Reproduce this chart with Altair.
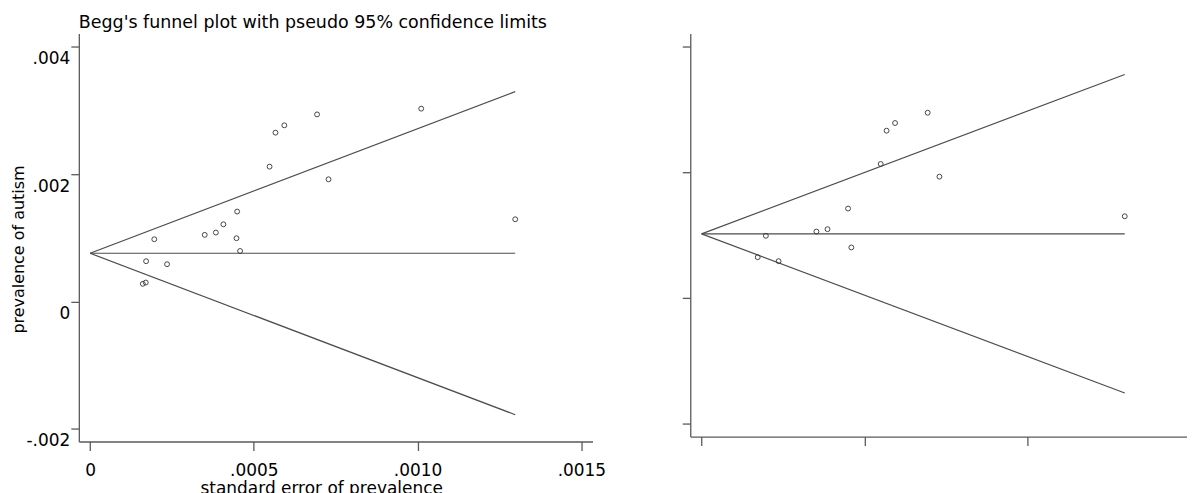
import altair as alt
import pandas as pd

# ---------------- data ----------------
# Left panel: all studies
left_se = [0.000693, 0.000593, 0.000566, 0.000548, 0.000728, 0.000449, 0.000407,
           0.000384, 0.000350, 0.000447, 0.000196, 0.000458, 0.000171, 0.000235,
           0.000170, 0.000161, 0.001011, 0.001298]
left_prev = [0.00294, 0.002768, 0.002653, 0.002119, 0.00192, 0.001413, 0.001213,
             0.001083, 0.001047, 0.000994, 0.000978, 0.000794, 0.000633, 0.000586,
             0.000298, 0.000278, 0.00303, 0.001292]

# Right panel: reduced set of studies
right_se = [0.000693, 0.000593, 0.000567, 0.000549, 0.000729, 0.000449, 0.000386,
            0.000352, 0.000197, 0.000459, 0.000172, 0.000236, 0.001297]
right_prev = [0.002946, 0.002782, 0.00266, 0.00213, 0.001928, 0.00142, 0.001091,
              0.001054, 0.000986, 0.0008, 0.000645, 0.000582, 0.001297]

# Funnel (pseudo 95% limits) end points
left_line_se = [0.0, 0.001298]
left_upper = [0.000758, 0.003297]
left_center = [0.000758, 0.000758]
left_lower = [0.000758, -0.001779]

right_line_se = [0.0, 0.001297]
right_upper = [0.001017, 0.003555]
right_center = [0.001017, 0.001017]
right_lower = [0.001017, -0.001517]

x_ticks = [0.0, 0.0005, 0.0010, 0.0015]
y_ticks = [-0.002, 0.0, 0.002, 0.004]

title_text = "Begg's funnel plot with pseudo 95% confidence limits"
x_title = "standard error of prevalence"
y_title = "prevalence of autism"

# ---------------- styling ----------------
FONT = "DejaVu Sans"
FS = 17
GRAY = "#5a5a5a"
LINE = "#4d4d4d"
PT = "#333333"


def funnel_df(se, up, mid, lo):
    rows = []
    for name, vals in (("upper", up), ("center", mid), ("lower", lo)):
        for s, v in zip(se, vals):
            rows.append({"se": s, "prev": v, "limit": name})
    return pd.DataFrame(rows)


def make_panel(se, prev, fse, fup, fmid, flo, xdom, ydom, w, h, labels):
    pts = pd.DataFrame({"se": se, "prev": prev})
    fdf = funnel_df(fse, fup, fmid, flo)

    xaxis_kw = dict(values=x_ticks, tickSize=9, tickColor=GRAY, tickWidth=1.3,
                    domainColor=GRAY, domainWidth=1.3, grid=False)
    yaxis_kw = dict(values=y_ticks, tickSize=8, tickColor=GRAY, tickWidth=1.3,
                    domainColor=GRAY, domainWidth=1.3, grid=False)
    if labels:
        xaxis_kw.update(
            labelExpr="datum.value == 0 ? '0' : replace(format(datum.value, '.4f'), '0.', '.')",
            labelFont=FONT, labelFontSize=FS, labelColor="black", labelPadding=12,
            labelFlush=False,
            titleFont=FONT, titleFontSize=FS, titleFontWeight="normal", titleColor="black",
            titleX=243, titleY=39, titleBaseline="top", titleAlign="center")
        yaxis_kw.update(
            labelExpr="datum.value == 0 ? '0' : replace(replace(format(datum.value, '.3f'), '0.', '.'), '\u2212', '-')",
            labelFont=FONT, labelFontSize=FS, labelColor="black", labelPadding=1,
            labelOffset=12, labelFlush=False,
            titleFont=FONT, titleFontSize=16, titleFontWeight="normal", titleColor="black",
            titleX=-52, titleY=216, titleBaseline="bottom", titleAlign="center")
        xt, yt = x_title, y_title
    else:
        xaxis_kw.update(labels=False)
        yaxis_kw.update(labels=False)
        xt, yt = None, None

    xenc = alt.X("se:Q", scale=alt.Scale(domain=xdom, nice=False, zero=False),
                 axis=alt.Axis(**xaxis_kw), title=xt)
    yenc = alt.Y("prev:Q", scale=alt.Scale(domain=ydom, nice=False, zero=False),
                 axis=alt.Axis(**yaxis_kw), title=yt)

    lines = alt.Chart(fdf).mark_line(color=LINE, strokeWidth=1.2).encode(
        x=xenc, y=yenc, detail="limit:N")
    dots = alt.Chart(pts).mark_point(shape="circle", filled=False, size=24,
                                     color=PT, strokeWidth=0.9, opacity=1).encode(
        x=alt.X("se:Q"), y=alt.Y("prev:Q"))
    return alt.layer(lines, dots).properties(width=w, height=h)


left = make_panel(left_se, left_prev, left_line_se, left_upper, left_center, left_lower,
                  [-0.0000344, 0.001534], [-0.0022, 0.00421], 515, 409, True)

right = make_panel(right_se, right_prev, right_line_se, right_upper, right_center, right_lower,
                   [-0.0000347, 0.0014878], [-0.002211, 0.004207], 498, 404, False)

chart = alt.hconcat(left, right, spacing=98, bounds="flush").properties(
    title=alt.TitleParams(title_text, anchor="start", frame="group", font=FONT,
                          fontSize=17.5, fontWeight="normal", color="black",
                          baseline="alphabetic", offset=-12),
    padding={"left": 3, "top": 5, "right": 0, "bottom": 0},
    background="white",
).configure_view(stroke=None)

chart.save("out.html", embed_options={"renderer": "svg", "actions": False})
